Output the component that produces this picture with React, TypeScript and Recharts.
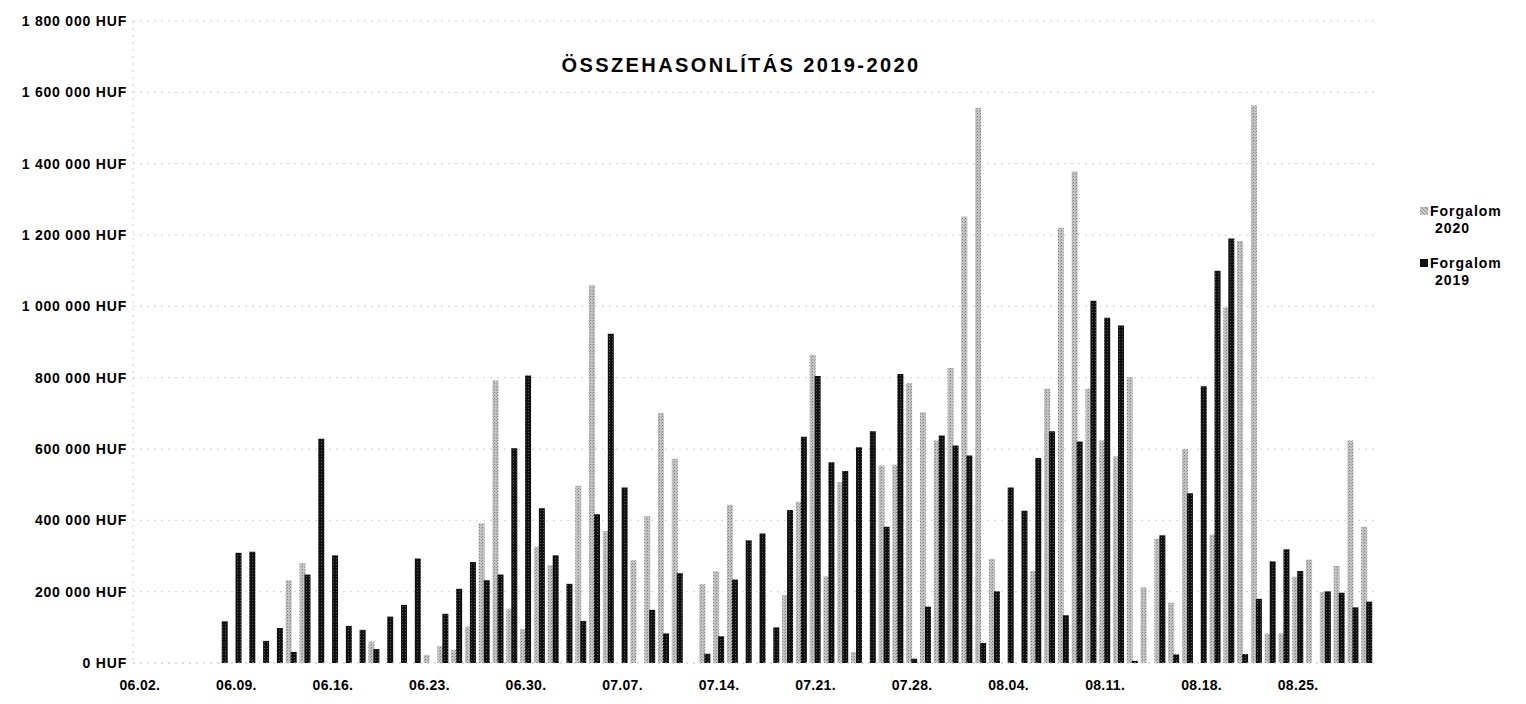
import React from 'react';
import { BarChart, Bar, XAxis, YAxis, CartesianGrid } from 'recharts';

// napok (06.02. - 08.30.)
const days = [
  '06.02.', '06.03.', '06.04.', '06.05.', '06.06.', '06.07.', '06.08.', '06.09.', '06.10.', '06.11.',
  '06.12.', '06.13.', '06.14.', '06.15.', '06.16.', '06.17.', '06.18.', '06.19.', '06.20.', '06.21.',
  '06.22.', '06.23.', '06.24.', '06.25.', '06.26.', '06.27.', '06.28.', '06.29.', '06.30.',
  '07.01.', '07.02.', '07.03.', '07.04.', '07.05.', '07.06.', '07.07.', '07.08.', '07.09.', '07.10.',
  '07.11.', '07.12.', '07.13.', '07.14.', '07.15.', '07.16.', '07.17.', '07.18.', '07.19.', '07.20.',
  '07.21.', '07.22.', '07.23.', '07.24.', '07.25.', '07.26.', '07.27.', '07.28.', '07.29.', '07.30.', '07.31.',
  '08.01.', '08.02.', '08.03.', '08.04.', '08.05.', '08.06.', '08.07.', '08.08.', '08.09.', '08.10.',
  '08.11.', '08.12.', '08.13.', '08.14.', '08.15.', '08.16.', '08.17.', '08.18.', '08.19.', '08.20.',
  '08.21.', '08.22.', '08.23.', '08.24.', '08.25.', '08.26.', '08.27.', '08.28.', '08.29.', '08.30.',
];

// Forgalom 2020 (HUF)
const forgalom2020 = [
  0, 0, 0, 0, 0, 0, 0, 0, 0, 0,
  0, 232000, 280000, 0, 0, 0, 0, 60000, 0, 0,
  0, 23000, 48000, 36000, 102000, 392000, 792000, 152000, 95000,
  326000, 274000, 0, 497000, 1059000, 370000, 0, 288000, 412000, 700000,
  573000, 0, 221000, 257000, 444000, 0, 0, 0, 191000, 452000,
  864000, 243000, 507000, 31000, 0, 554000, 556000, 784000, 703000, 624000, 827000,
  1252000, 1557000, 292000, 0, 0, 258000, 769000, 1220000, 1378000, 769000,
  624000, 580000, 801000, 212000, 349000, 169000, 599000, 0, 360000, 997000,
  1183000, 1564000, 83000, 83000, 242000, 290000, 199000, 272000, 624000, 382000,
];

// Forgalom 2019 (HUF)
const forgalom2019 = [
  0, 0, 0, 0, 0, 0, 117000, 309000, 312000, 62000,
  98000, 31000, 248000, 629000, 302000, 104000, 93000, 39000, 130000, 163000,
  293000, 0, 138000, 208000, 283000, 232000, 248000, 602000, 806000,
  434000, 302000, 222000, 118000, 417000, 923000, 492000, 0, 149000, 83000,
  252000, 0, 26000, 75000, 234000, 344000, 363000, 100000, 429000, 634000,
  805000, 563000, 538000, 605000, 650000, 382000, 810000, 12000, 158000, 638000, 610000,
  582000, 56000, 201000, 492000, 427000, 575000, 650000, 134000, 621000, 1016000,
  968000, 946000, 6000, 0, 358000, 24000, 476000, 776000, 1100000, 1190000,
  25000, 180000, 285000, 319000, 258000, 0, 201000, 197000, 156000, 172000,
];

const yTicks = [0, 200000, 400000, 600000, 800000, 1000000, 1200000, 1400000, 1600000, 1800000];

const chartData = days.map((day, i) => ({
  day,
  f2020: forgalom2020[i],
  f2019: forgalom2019[i],
}));

const FONT = '"Liberation Sans", Arial, sans-serif';

const formatHuf = (v: number) =>
  String(v).replace(/\B(?=(\d{3})+(?!\d))/g, ' ') + ' HUF';

const legendSwatch2020 =
  'repeating-linear-gradient(45deg, #8e8e8e 0 1px, #c8c8c8 1px 3px)';

export default function App() {
  return (
    <div style={{ position: 'relative', width: 1510, height: 690, fontFamily: FONT }}>
      <div
        style={{
          position: 'absolute',
          left: 0,
          width: 1466,
          top: 46,
          textAlign: 'center',
          fontSize: 20,
          fontWeight: 'bold',
          letterSpacing: 2.4,
          color: '#000',
        }}
      >
        ÖSSZEHASONLÍTÁS 2019-2020
      </div>

      <BarChart
        width={1510}
        height={690}
        data={chartData}
        margin={{ top: 13, right: 144, bottom: 0, left: 0 }}
        barSize={6}
        barGap={-1}
      >
        <defs>
          <pattern id="hatch2020" width="3" height="3" patternUnits="userSpaceOnUse">
            <rect width="3" height="3" fill="#c4c4c4" />
            <rect x="0" y="0" width="1" height="1" fill="#7e7e7e" />
            <rect x="2" y="1" width="1" height="1" fill="#9a9a9a" />
          </pattern>
          <pattern id="hatch2019" width="3" height="3" patternUnits="userSpaceOnUse">
            <rect width="3" height="3" fill="#111" />
            <rect x="1" y="1" width="1" height="1" fill="#555" />
          </pattern>
        </defs>
        <CartesianGrid vertical={false} stroke="#d2d2d2" strokeDasharray="2 5" />
        <XAxis
          dataKey="day"
          interval={6}
          tickLine={false}
          tickSize={0}
          tickMargin={17}
          height={35}
          axisLine={{ stroke: '#d0d0d0', strokeDasharray: '2 5' }}
          tick={{ fill: '#000', fontSize: 14, fontWeight: 'bold', fontFamily: FONT, letterSpacing: 0.3 }}
        />
        <YAxis
          domain={[0, 1800000]}
          ticks={yTicks}
          interval={0}
          width={125}
          tickLine={false}
          tickSize={0}
          tickMargin={6}
          axisLine={{ stroke: '#d0d0d0', strokeDasharray: '2 5' }}
          tickFormatter={formatHuf}
          tick={{ fill: '#000', fontSize: 14, fontWeight: 'bold', fontFamily: FONT, letterSpacing: 0.8 }}
        />
        <Bar dataKey="f2020" name="Forgalom 2020" fill="url(#hatch2020)" isAnimationActive={false} />
        <Bar dataKey="f2019" name="Forgalom 2019" fill="url(#hatch2019)" isAnimationActive={false} />
      </BarChart>

      {/* jelmagyarázat */}
      <div
        style={{
          position: 'absolute',
          left: 1412,
          top: 195,
          fontSize: 14,
          fontWeight: 'bold',
          letterSpacing: 1,
          lineHeight: '17px',
          color: '#000',
        }}
      >
        <div style={{ display: 'flex', alignItems: 'flex-start' }}>
          <span style={{ width: 8, height: 8, marginTop: 4, marginRight: 2, background: legendSwatch2020 }} />
          <span>
            Forgalom
            <br />
            &nbsp;2020
          </span>
        </div>
        <div style={{ display: 'flex', alignItems: 'flex-start', marginTop: 18 }}>
          <span style={{ width: 8, height: 8, marginTop: 4, marginRight: 2, background: '#111' }} />
          <span>
            Forgalom
            <br />
            &nbsp;2019
          </span>
        </div>
      </div>
    </div>
  );
}
